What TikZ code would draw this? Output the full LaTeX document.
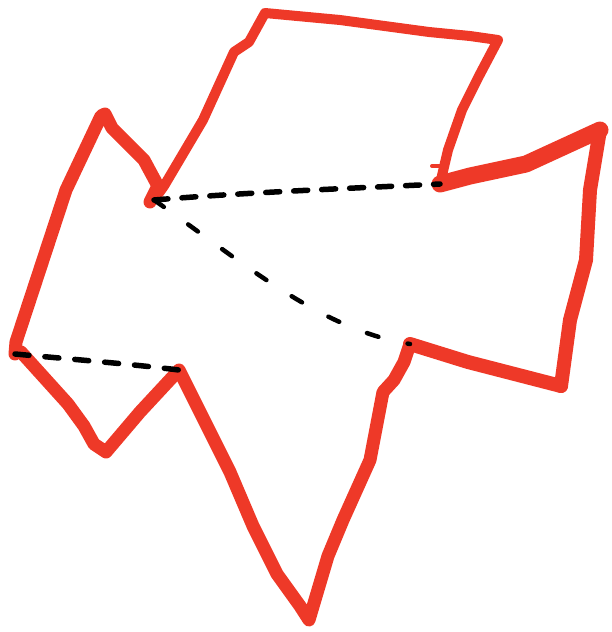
\documentclass[tikz,border=0pt]{standalone}
\definecolor{pen}{RGB}{238,57,40}
\tikzset{
  redline/.style={draw=pen, line width=#1, line cap=round, line join=round},
  redline/.default=13pt,
  dashline/.style={draw=black, line width=5.5pt, line cap=round, dash pattern=on 11pt off 17pt}
}
\begin{document}
\begin{tikzpicture}[x=1pt,y=-1pt]
\useasboundingbox (0,0) rectangle (611,632);
% key vertices
\coordinate (notch) at (154,200);
\coordinate (top) at (265,13);
\coordinate (tr) at (498,40);
\coordinate (mid) at (440,184);
\coordinate (far) at (600,130);
\coordinate (br) at (561,386);
\coordinate (inner) at (410,344);
\coordinate (bottom) at (309,620);
\coordinate (knot) at (179,370);
\coordinate (vee) at (106,452);
\coordinate (left) at (15,354);
\coordinate (peak) at (101,116);
% upper thin part
\draw[redline=10pt] (notch) -- (164,186) -- (203,120) -- (234,52) -- (249,42) -- (top)
  -- (340,20) -- (429,32) -- (470,36) -- (tr)
  -- (479,76) -- (462,110) -- (448,150) -- (mid);
\draw[redline=4pt] (432,166) -- (442,166);
% thick right part
\draw[redline=17pt] (mid) -- (470,176) -- (526,164) -- (far);
\draw[redline=14pt] (far) -- (590,190) -- (586,260) -- (570,320) -- (br);
\draw[redline=14pt] (br) -- (468,362) -- (inner);
% lower part
\draw[redline=13pt] (inner) -- (404,362) -- (394,380) -- (383,392) -- (370,460) -- (343,520)
  -- (328,556) -- (bottom) -- (300,606) -- (277,574) -- (253,526) -- (230,472) -- (knot)
  -- (140,412) -- (vee) -- (94,444) -- (84,426) -- (68,404) -- (21,352);
\draw[redline=13pt] (left) -- (16,342) -- (66,190) -- (peak) -- (105,114) -- (112,128)
  -- (144,160) -- (158,186) -- (150,202);
% dashed lines
\draw[dashline, dash pattern=on 14pt off 14pt] (notch) .. controls (250,192) and (360,188) .. (mid);
\draw[dashline, line width=4.5pt, dash pattern=on 12pt off 30pt] (notch) .. controls (240,260) and (320,330) .. (inner);
\draw[dashline, dash pattern=on 14pt off 16pt] (left) .. controls (80,360) and (130,364) .. (knot);
\end{tikzpicture}
\end{document}
